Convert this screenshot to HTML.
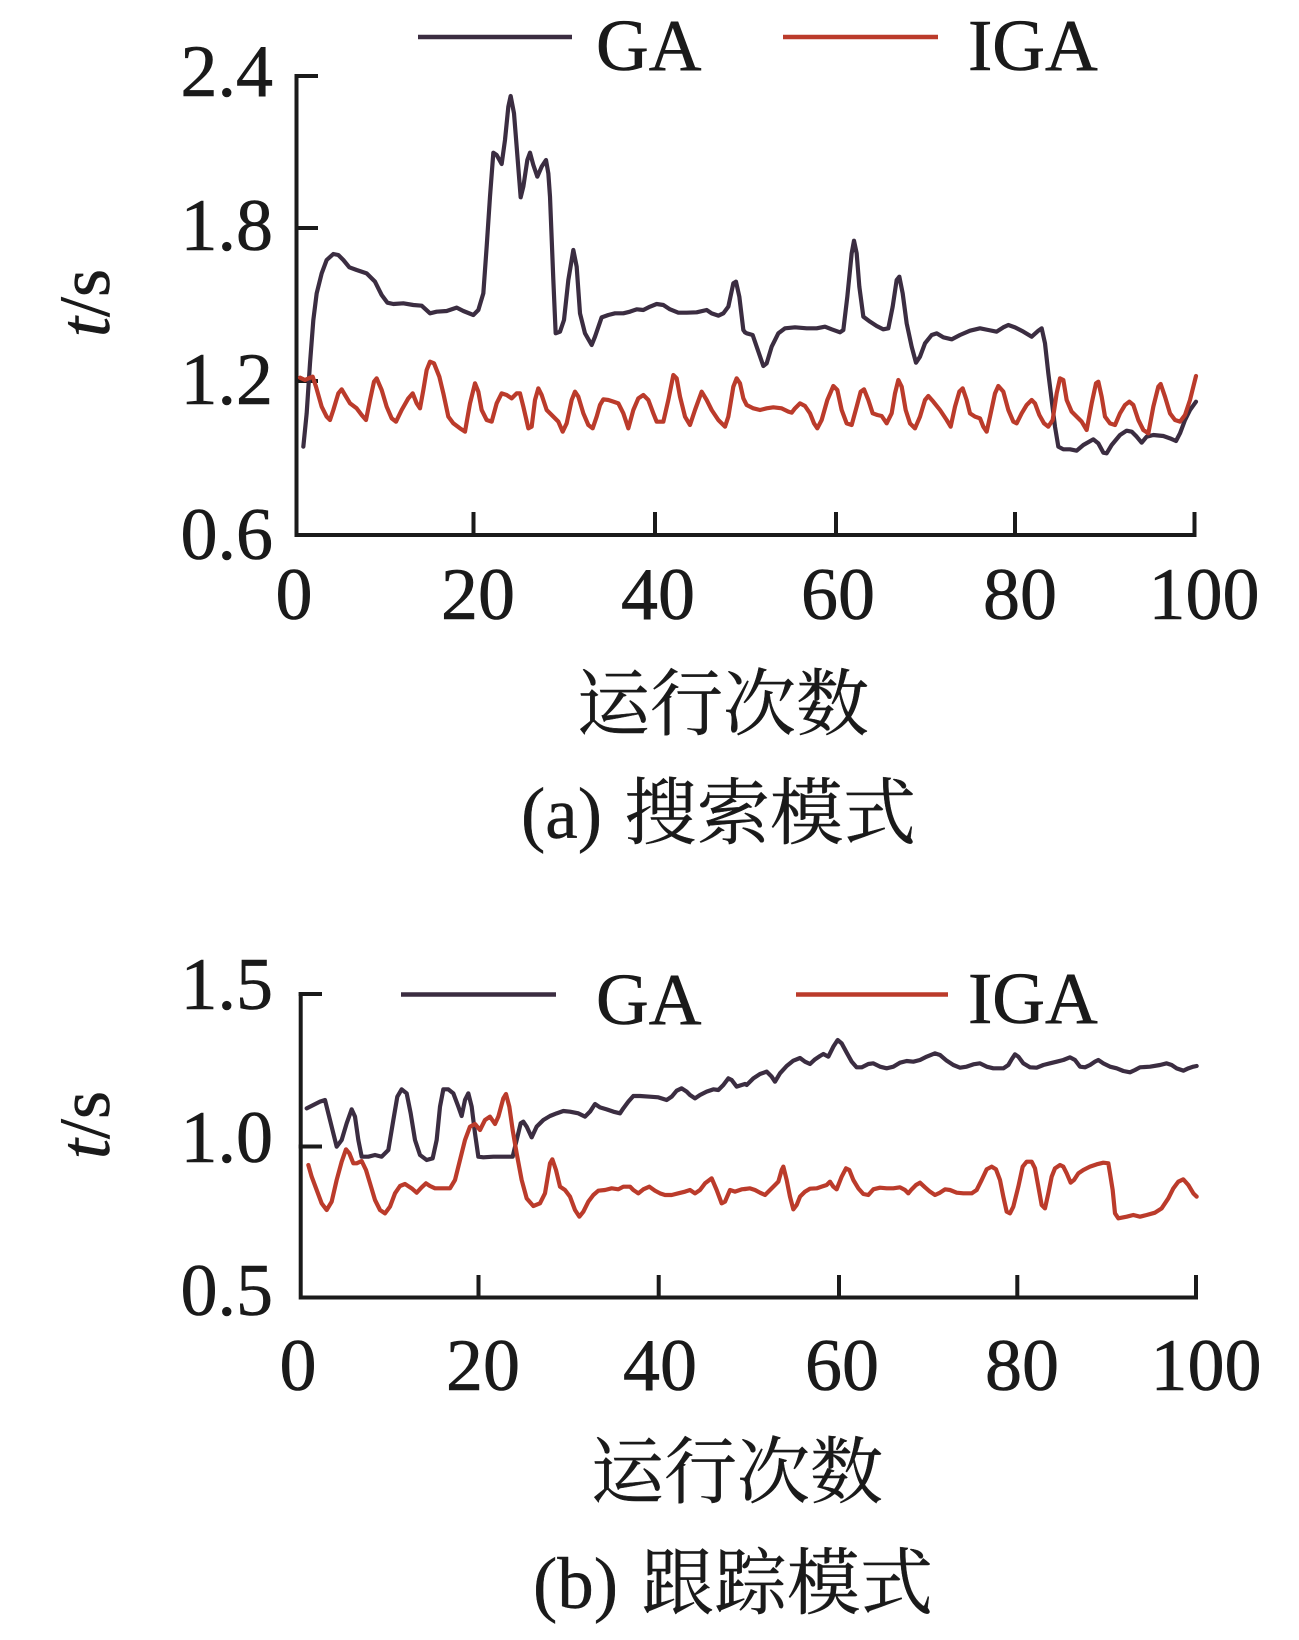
<!DOCTYPE html>
<html>
<head>
<meta charset="utf-8">
<style>
  html, body { margin: 0; padding: 0; background: #ffffff; }
  body { width: 1299px; height: 1640px; overflow: hidden; }
  svg { display: block; }
  .num { font-family: "Liberation Serif", "Times New Roman", serif; font-size: 74px; fill: #1a1a1a; stroke: #1a1a1a; stroke-width: 0.6; }
  .leg { font-family: "Liberation Serif", "Times New Roman", serif; font-size: 73px; fill: #1a1a1a; stroke: #1a1a1a; stroke-width: 0.6; }
  .cjk { font-family: "Liberation Serif", "Noto Serif CJK SC", "Noto Sans CJK SC", serif; font-size: 73px; fill: #1a1a1a; stroke: #1a1a1a; stroke-width: 0.4; }
  .ylab { font-family: "Liberation Serif", "Times New Roman", serif; font-size: 72px; fill: #1a1a1a; stroke: #1a1a1a; stroke-width: 0.6; }
  .ga { fill: none; stroke: #3b2d41; stroke-width: 4.2; stroke-linejoin: round; stroke-linecap: round; }
  .iga { fill: none; stroke: #bb3b2b; stroke-width: 4.2; stroke-linejoin: round; stroke-linecap: round; }
  .ax { fill: none; stroke: #1a1a1a; stroke-width: 4; stroke-linecap: square; }
</style>
</head>
<body>
<svg width="1299" height="1640" viewBox="0 0 1299 1640" xmlns="http://www.w3.org/2000/svg">
  <rect width="1299" height="1640" fill="#ffffff"/>

  <!-- ================= TOP CHART (a) ================= -->
  <line x1="418" y1="37" x2="572" y2="37" stroke="#3b2d41" stroke-width="4.5"/>
  <text class="leg" x="596" y="70">GA</text>
  <line x1="783" y1="37" x2="938" y2="37" stroke="#bb3b2b" stroke-width="4.5"/>
  <text class="leg" x="968" y="70">IGA</text>

  <path class="ax" d="M296.5,76 L296.5,535 L1194.5,535"/>
  <path class="ax" d="M296.5,76 L316,76 M296.5,228 L316,228 M296.5,381 L316,381"/>
  <path class="ax" d="M473.5,535 L473.5,514 M655,535 L655,514 M836,535 L836,514 M1015,535 L1015,514 M1194.5,535 L1194.5,514"/>

  <text class="num" x="273" y="96" text-anchor="end">2.4</text>
  <text class="num" x="273" y="250" text-anchor="end">1.8</text>
  <text class="num" x="273" y="404" text-anchor="end">1.2</text>
  <text class="num" x="273" y="559" text-anchor="end">0.6</text>

  <text class="num" x="294" y="619" text-anchor="middle">0</text>
  <text class="num" x="478" y="619" text-anchor="middle">20</text>
  <text class="num" x="658" y="619" text-anchor="middle">40</text>
  <text class="num" x="838" y="619" text-anchor="middle">60</text>
  <text class="num" x="1020" y="619" text-anchor="middle">80</text>
  <text class="num" x="1204" y="619" text-anchor="middle">100</text>

  <text class="ylab" transform="translate(109,303) rotate(-90)" text-anchor="middle"><tspan font-style="italic">t</tspan>/s</text>

  <text class="cjk" x="723" y="729" text-anchor="middle">运行次数</text>
  <text class="cjk"><tspan x="521" y="838">(a)</tspan><tspan x="624" y="838">搜索模式</tspan></text>

  <g transform="translate(290,80) scale(0.333333)">
    <polyline class="ga" vector-effect="non-scaling-stroke" points="40,1100 50,1000 60,850 70,720 80,640 95,580 110,540 130,522 145,525 160,540 178,562 200,570 230,580 255,605 275,645 292,668 310,672 340,670 370,675 395,677 420,700 440,695 470,693 500,683 520,693 550,705 565,690 580,640 590,500 600,350 610,218 620,225 635,252 645,180 655,80 662,48 672,100 680,200 692,352 700,320 712,240 720,218 730,255 742,290 755,260 768,240 775,280 780,350 790,600 797,760 810,755 822,720 835,600 850,510 860,560 870,700 885,760 905,795 915,770 935,712 955,705 975,700 1000,700 1020,695 1040,688 1060,690 1080,680 1100,672 1120,675 1140,688 1165,698 1190,698 1220,697 1250,690 1265,700 1285,707 1300,700 1315,680 1330,610 1338,605 1348,650 1360,750 1365,757"/>
    <polyline class="iga" vector-effect="non-scaling-stroke" points="30,893 45,900 60,893 68,890 78,920 95,980 110,1010 120,1020 130,990 145,940 155,928 165,945 180,970 200,985 215,1005 228,1020 240,960 252,905 260,895 275,930 290,980 305,1015 318,1025 335,990 355,955 368,940 380,970 390,985 400,930 410,870 420,845 432,850 448,890 460,940 475,1010 490,1030 510,1045 525,1055 540,970 555,910 565,935 575,990 590,1020 605,1025 620,970 635,940 650,945 665,955 680,940 690,940 700,980 715,1045 725,1040 735,960 745,925 755,945 770,990 790,1010 805,1025 818,1055 830,1030 845,960 855,935 865,950 880,1000 895,1035 908,1045 920,1010 930,975 940,958 955,960 970,965 985,970 1000,1000 1015,1045 1030,990 1045,955 1060,945 1075,960 1090,1000 1100,1025 1120,1025 1135,960 1150,885 1160,895 1170,950 1185,1010 1200,1035 1215,990 1235,935 1250,960 1265,990 1285,1020 1305,1040 1315,1010 1330,920 1340,895 1350,910 1360,955 1365,965"/>
  </g>
  <g transform="translate(740,80) scale(0.333333)">
    <polyline class="ga" vector-effect="non-scaling-stroke" points="15,757 20,760 38,765 50,800 70,858 80,850 95,800 115,760 135,745 165,742 200,745 230,745 255,740 275,748 300,757 310,750 322,650 335,520 342,482 350,520 358,620 370,710 390,725 410,738 430,748 445,745 458,680 470,600 478,590 488,640 500,730 515,800 528,848 540,830 555,790 575,765 590,760 610,772 635,778 660,765 690,752 720,745 745,750 770,755 790,742 805,735 825,742 850,755 875,770 895,752 905,745 915,790 925,880 935,960 945,1040 955,1100 970,1108 990,1108 1010,1112 1030,1095 1060,1078 1075,1090 1090,1118 1100,1120 1115,1095 1140,1065 1160,1052 1175,1055 1190,1070 1205,1088 1220,1070 1240,1065 1270,1068 1290,1075 1308,1083 1320,1060 1335,1020 1350,990 1368,965"/>
    <polyline class="iga" vector-effect="non-scaling-stroke" points="15,965 20,975 40,985 60,990 80,985 100,982 125,985 145,995 155,998 165,985 180,970 195,978 210,1000 222,1030 232,1045 245,1020 262,960 280,918 292,930 305,990 320,1030 335,1035 350,980 362,935 372,928 385,960 398,1000 412,1005 425,1008 440,1030 455,1000 465,940 475,900 485,920 497,990 510,1030 525,1045 540,1010 555,960 565,948 580,965 600,990 620,1020 632,1040 645,980 658,935 668,925 680,960 690,1000 705,1010 720,1015 730,1040 740,1055 750,1010 765,940 775,918 790,935 805,990 820,1025 830,1030 845,1000 860,975 875,960 885,970 898,1005 912,1030 925,1040 938,1020 950,940 960,895 970,900 980,960 995,995 1010,1010 1025,1025 1040,1050 1055,970 1068,910 1075,905 1085,950 1095,1010 1110,1030 1125,1035 1140,1000 1155,975 1168,965 1180,975 1195,1020 1210,1050 1225,1060 1240,980 1255,920 1262,912 1275,950 1290,1000 1305,1020 1320,1025 1335,1005 1350,960 1360,920 1368,888"/>
  </g>

  <!-- ================= BOTTOM CHART (b) ================= -->
  <line x1="401" y1="994.5" x2="556" y2="994.5" stroke="#3b2d41" stroke-width="4.5"/>
  <text class="leg" x="596" y="1024">GA</text>
  <line x1="796" y1="994.5" x2="948" y2="994.5" stroke="#bb3b2b" stroke-width="4.5"/>
  <text class="leg" x="968" y="1023">IGA</text>

  <path class="ax" d="M300.7,994 L300.7,1297.5 L1196,1297.5"/>
  <path class="ax" d="M300.7,994 L320,994 M300.7,1146.5 L320,1146.5"/>
  <path class="ax" d="M478.5,1297.5 L478.5,1277 M658.7,1297.5 L658.7,1277 M839,1297.5 L839,1277 M1017.3,1297.5 L1017.3,1277 M1196,1297.5 L1196,1277"/>

  <text class="num" x="273" y="1009" text-anchor="end">1.5</text>
  <text class="num" x="273" y="1162" text-anchor="end">1.0</text>
  <text class="num" x="273" y="1315" text-anchor="end">0.5</text>

  <text class="num" x="298" y="1390" text-anchor="middle">0</text>
  <text class="num" x="483" y="1390" text-anchor="middle">20</text>
  <text class="num" x="660" y="1390" text-anchor="middle">40</text>
  <text class="num" x="842" y="1390" text-anchor="middle">60</text>
  <text class="num" x="1022" y="1390" text-anchor="middle">80</text>
  <text class="num" x="1206" y="1390" text-anchor="middle">100</text>

  <text class="ylab" transform="translate(109,1125) rotate(-90)" text-anchor="middle"><tspan font-style="italic">t</tspan>/s</text>

  <text class="cjk" x="737" y="1497" text-anchor="middle">运行次数</text>
  <text class="cjk"><tspan x="533" y="1608">(b)</tspan><tspan x="641" y="1608">跟踪模式</tspan></text>

  <g transform="translate(290,900) scale(0.333333)">
    <polyline class="ga" vector-effect="non-scaling-stroke" points="50,625 70,615 90,605 105,600 115,640 130,700 140,740 155,720 170,670 185,628 195,650 205,720 215,770 235,770 255,765 275,770 295,750 310,660 322,590 335,568 350,580 362,640 375,720 390,765 410,780 428,775 440,720 450,620 460,568 475,568 490,580 505,620 515,648 525,600 535,580 545,620 555,700 565,770 580,772 610,770 640,770 668,770 680,720 692,670 700,665 710,680 725,712 740,680 760,660 780,648 800,640 820,633 840,635 865,640 885,650 900,635 915,612 930,622 950,628 970,635 990,640 1000,625 1015,605 1030,588 1050,588 1080,590 1105,592 1130,600 1145,590 1160,572 1175,565 1190,575 1200,585 1215,595 1230,585 1250,575 1270,568 1285,570 1300,555 1315,535 1325,540 1340,560 1355,555 1365,552"/>
    <polyline class="iga" vector-effect="non-scaling-stroke" points="55,795 65,830 80,870 95,910 110,930 125,905 140,840 155,785 168,748 178,760 190,790 200,790 215,783 228,810 240,850 255,900 270,930 285,940 300,920 315,880 330,858 345,852 365,865 380,878 395,862 408,850 420,858 435,865 460,865 480,865 495,840 510,780 525,720 540,680 555,672 570,690 585,660 600,650 615,672 625,650 640,595 648,582 658,620 668,690 680,760 695,840 710,895 730,918 750,910 765,880 780,790 787,778 798,810 810,860 825,870 840,890 855,930 868,950 880,935 895,905 910,885 925,872 945,870 965,865 985,868 1000,860 1020,860 1030,870 1045,880 1060,868 1078,860 1095,872 1110,880 1125,885 1145,885 1165,880 1185,875 1200,870 1215,880 1230,870 1245,850 1265,835 1280,870 1295,910 1305,905 1320,870 1335,875 1355,868 1365,867"/>
  </g>
  <g transform="translate(740,900) scale(0.333333)">
    <polyline class="ga" vector-effect="non-scaling-stroke" points="15,552 20,555 40,535 60,522 80,515 95,530 105,545 120,520 140,498 160,482 180,474 195,485 210,492 225,478 240,468 250,462 265,470 280,440 293,420 305,430 320,458 335,485 350,502 365,502 385,492 400,490 420,500 440,505 460,500 480,488 500,483 520,485 540,480 560,470 585,460 600,465 620,482 640,495 660,503 680,500 700,493 720,490 740,500 760,505 790,505 805,495 815,478 825,463 835,470 850,490 870,502 890,503 910,495 930,490 950,485 970,480 990,472 1005,480 1020,500 1035,502 1050,495 1065,485 1075,480 1090,490 1110,500 1130,505 1150,513 1170,517 1185,510 1200,502 1230,500 1260,495 1280,490 1295,495 1310,505 1330,512 1345,505 1360,500 1370,498"/>
    <polyline class="iga" vector-effect="non-scaling-stroke" points="15,867 30,865 45,870 60,878 75,885 90,870 105,855 115,845 125,810 130,800 140,840 150,890 160,928 170,915 180,890 195,875 210,866 230,865 245,860 260,855 270,845 280,860 290,868 305,830 318,805 328,810 340,840 355,865 370,882 385,885 400,868 420,863 440,865 460,865 480,862 495,870 505,880 515,868 528,855 540,848 555,862 570,875 585,885 600,878 615,868 630,870 650,878 670,880 695,880 710,870 725,840 740,808 755,800 768,808 780,840 790,890 800,935 810,940 820,920 835,860 848,800 860,785 875,785 885,805 895,860 905,915 915,925 925,880 935,830 945,805 960,795 970,800 980,820 992,848 1002,840 1015,820 1030,810 1050,800 1070,793 1090,788 1105,790 1110,820 1118,870 1125,940 1135,955 1160,950 1180,945 1200,950 1220,945 1245,938 1265,925 1285,895 1300,865 1315,845 1330,838 1345,855 1360,880 1370,890"/>
  </g>
</svg>
</body>
</html>
